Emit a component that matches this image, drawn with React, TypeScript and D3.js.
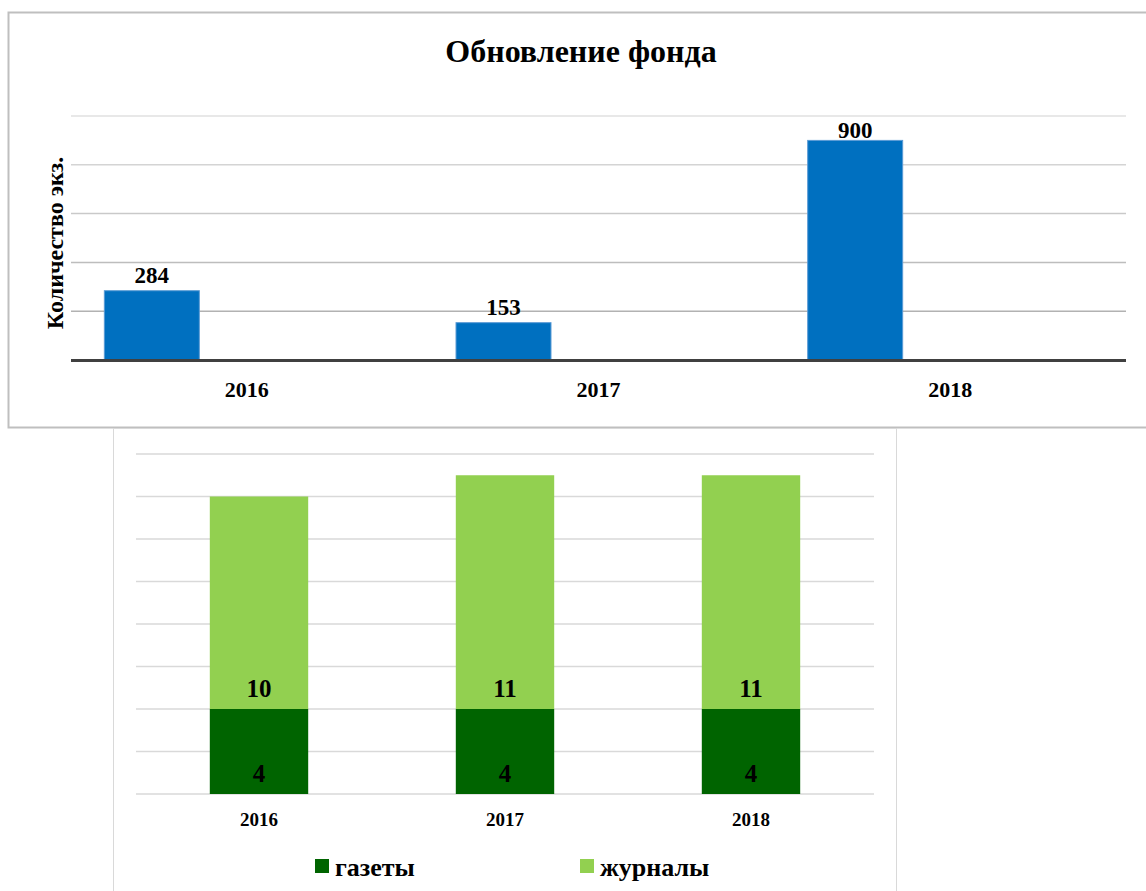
import React, { useEffect, useRef } from "react";
import { select, scaleBand, scaleLinear, interpolateRgb } from "d3";

const years = ["2016", "2017", "2018"];
const fundValues = [284, 153, 900];
const fundTicks = [0, 200, 400, 600, 800, 1000];

const pressSeries = ["газеты", "журналы"];
const newspapers = [4, 4, 4];
const magazines = [10, 11, 11];
const pressTicks = [0, 2, 4, 6, 8, 10, 12, 14, 16];

const FONT = "'Liberation Serif', 'Times New Roman', serif";
const WIDTH = 1146;
const HEIGHT = 891;

const App = () => {
  const svgRef = useRef<SVGSVGElement | null>(null);

  useEffect(() => {
    const svg = select(svgRef.current);
    svg.selectAll("*").remove();

    // --- верхняя диаграмма: обновление фонда ---
    const top = svg.append("g");
    top
      .append("rect")
      .attr("x", 8.5)
      .attr("y", 12.5)
      .attr("width", 1150)
      .attr("height", 415)
      .attr("fill", "#fff")
      .attr("stroke", "#bfbfbf")
      .attr("stroke-width", 2);

    const x1 = scaleBand().domain(years).range([71, 1126]);
    // три места под ряды, заполнен только первый
    const slot = scaleBand()
      .domain(["a", "b", "c"])
      .range([0, x1.bandwidth()])
      .paddingOuter(0.351);
    const y1 = scaleLinear().domain([0, 1000]).range([360, 116]);
    const lineColor = (t) => interpolateRgb("#a6a6a6", "#e0e0e0")(t / 1000);

    top
      .selectAll(".grid1")
      .data(fundTicks.slice(1))
      .enter()
      .append("line")
      .attr("x1", 71)
      .attr("x2", 1126)
      .attr("y1", (d) => y1(d))
      .attr("y2", (d) => y1(d))
      .attr("stroke", (d) => lineColor(d))
      .attr("stroke-width", 1.5);

    top
      .append("text")
      .text("Обновление фонда")
      .attr("x", 581)
      .attr("y", 62)
      .attr("text-anchor", "middle")
      .attr("font-family", FONT)
      .attr("font-weight", "bold")
      .attr("font-size", 32);

    top
      .append("text")
      .text("Количество экз.")
      .attr("transform", "translate(63,243) rotate(-90)")
      .attr("text-anchor", "middle")
      .attr("font-family", FONT)
      .attr("font-weight", "bold")
      .attr("font-size", 24);

    top
      .selectAll(".bar1")
      .data(fundValues)
      .enter()
      .append("rect")
      .attr("x", (_, i) => x1(years[i]) + slot("a"))
      .attr("y", (d) => y1(d))
      .attr("width", slot.bandwidth())
      .attr("height", (d) => y1(0) - y1(d))
      .attr("fill", "#0070c0")
      .attr("stroke", "#5b9bd5")
      .attr("stroke-width", 1);

    top
      .selectAll(".lbl1")
      .data(fundValues)
      .enter()
      .append("text")
      .text((d) => d)
      .attr("x", (_, i) => x1(years[i]) + slot("a") + slot.bandwidth() / 2)
      .attr("y", (d) => Math.max(y1(d) - 8, y1(1000) + 22))
      .attr("text-anchor", "middle")
      .attr("font-family", FONT)
      .attr("font-weight", "bold")
      .attr("font-size", 23);

    top
      .append("line")
      .attr("x1", 71)
      .attr("x2", 1126)
      .attr("y1", y1(0) + 0.5)
      .attr("y2", y1(0) + 0.5)
      .attr("stroke", "#404040")
      .attr("stroke-width", 3);

    top
      .selectAll(".cat1")
      .data(years)
      .enter()
      .append("text")
      .text((d) => d)
      .attr("x", (d) => x1(d) + x1.bandwidth() / 2)
      .attr("y", 397)
      .attr("text-anchor", "middle")
      .attr("font-family", FONT)
      .attr("font-weight", "bold")
      .attr("font-size", 22);

    // --- нижняя диаграмма: газеты и журналы ---
    const bottom = svg.append("g");
    bottom
      .append("rect")
      .attr("x", 113.5)
      .attr("y", 428.5)
      .attr("width", 783)
      .attr("height", 470)
      .attr("fill", "#fff")
      .attr("stroke", "#d9d9d9")
      .attr("stroke-width", 1);

    const x2 = scaleBand()
      .domain(years)
      .range([136, 874])
      .paddingInner(0.6)
      .paddingOuter(0.3);
    const y2 = scaleLinear().domain([0, 16]).range([794, 454]);

    bottom
      .selectAll(".grid2")
      .data(pressTicks)
      .enter()
      .append("line")
      .attr("x1", 136)
      .attr("x2", 874)
      .attr("y1", (d) => y2(d))
      .attr("y2", (d) => y2(d))
      .attr("stroke", "#d9d9d9")
      .attr("stroke-width", 1.5);

    const colors = ["#006400", "#92d050"];
    const stacks = [newspapers, magazines];

    stacks.forEach((values, s) => {
      const base = (i) => (s === 0 ? 0 : newspapers[i]);
      bottom
        .selectAll(".bar2-" + s)
        .data(values)
        .enter()
        .append("rect")
        .attr("x", (_, i) => x2(years[i]))
        .attr("y", (d, i) => y2(base(i) + d))
        .attr("width", x2.bandwidth())
        .attr("height", (d, i) => y2(base(i)) - y2(base(i) + d))
        .attr("fill", colors[s]);

      bottom
        .selectAll(".lbl2-" + s)
        .data(values)
        .enter()
        .append("text")
        .text((d) => d)
        .attr("x", (_, i) => x2(years[i]) + x2.bandwidth() / 2)
        .attr("y", (_, i) => y2(base(i)) - 12)
        .attr("text-anchor", "middle")
        .attr("font-family", FONT)
        .attr("font-weight", "bold")
        .attr("font-size", 25);
    });

    bottom
      .selectAll(".cat2")
      .data(years)
      .enter()
      .append("text")
      .text((d) => d)
      .attr("x", (d) => x2(d) + x2.bandwidth() / 2)
      .attr("y", 826)
      .attr("text-anchor", "middle")
      .attr("font-family", FONT)
      .attr("font-weight", "bold")
      .attr("font-size", 19);

    const legendX = [315, 580];
    const legend = bottom
      .selectAll(".legend")
      .data(pressSeries)
      .enter()
      .append("g")
      .attr("transform", (_, i) => `translate(${legendX[i]},859)`);

    legend
      .append("rect")
      .attr("width", 14)
      .attr("height", 14)
      .attr("fill", (_, i) => colors[i]);

    legend
      .append("text")
      .text((d) => d)
      .attr("x", 20)
      .attr("y", 17)
      .attr("font-family", FONT)
      .attr("font-weight", "bold")
      .attr("font-size", 26);
  }, []);

  return (
    <svg
      ref={svgRef}
      width={WIDTH}
      height={HEIGHT}
      style={{ position: "absolute", left: 0, top: 0, background: "#fff" }}
    />
  );
};

export default App;
